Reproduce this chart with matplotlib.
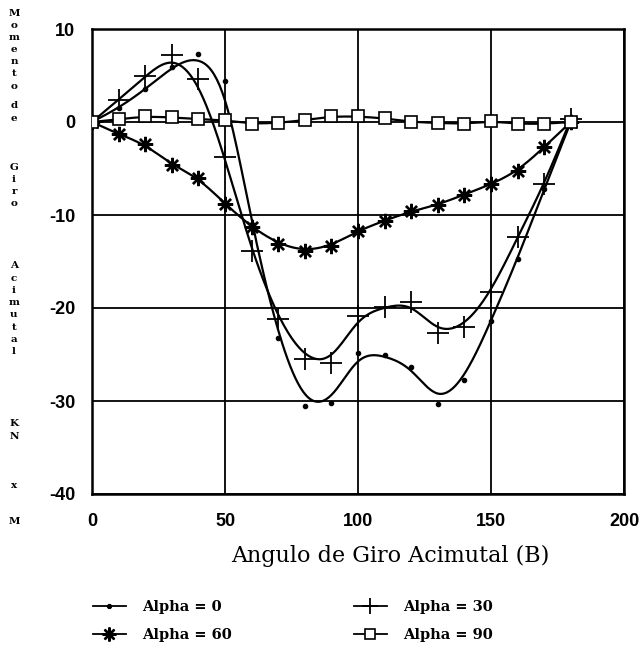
import numpy as np
import matplotlib
matplotlib.use("Agg")
import matplotlib.pyplot as plt
from matplotlib.lines import Line2D

plt.rcParams["axes.unicode_minus"] = False

# ---- data ----
angle = [0, 10, 20, 30, 40, 50, 60, 70, 80, 90, 100, 110, 120, 130, 140, 150, 160, 170, 180]
alpha0 = [0, 1.5, 3.5, 5.9, 7.3, 4.4, -11.0, -23.2, -30.5, -30.2, -24.8, -25.1, -26.3, -30.3, -27.7, -21.4, -14.7, -7.2, 0]
alpha30 = [0, 2.4, 4.9, 7.2, 4.6, -3.8, -13.9, -21.2, -25.5, -25.9, -20.9, -19.9, -19.4, -22.7, -22.0, -18.3, -12.4, -6.7, 0.3]
alpha60 = [0, -1.3, -2.4, -4.6, -6.0, -8.8, -11.3, -13.1, -13.9, -13.3, -11.7, -10.6, -9.6, -8.9, -7.8, -6.7, -5.3, -2.7, 0]
alpha90 = [0, 0.3, 0.6, 0.5, 0.3, 0.2, -0.2, -0.1, 0.2, 0.6, 0.6, 0.4, 0.0, -0.1, -0.2, 0.1, -0.2, -0.2, 0]
series_labels = ["Alpha = 0", "Alpha = 30", "Alpha = 60", "Alpha = 90"]
xlabel = "Angulo de Giro Acimutal (B)"
ylabel_words = ["Momento", "de", "Giro", "Acimutal", "KN", "x", "M"]
xticks = [0, 50, 100, 150, 200]
yticks = [10, 0, -10, -20, -30, -40]


def bspline(xs, ys, n=20):
    """Uniform cubic B-spline using the points as control points (clamped ends)."""
    px = np.concatenate([[xs[0]] * 2, xs, [xs[-1]] * 2]).astype(float)
    py = np.concatenate([[ys[0]] * 2, ys, [ys[-1]] * 2]).astype(float)
    t = np.linspace(0, 1, n, endpoint=False)
    b0 = (1 - t) ** 3 / 6
    b1 = (3 * t ** 3 - 6 * t ** 2 + 4) / 6
    b2 = (-3 * t ** 3 + 3 * t ** 2 + 3 * t + 1) / 6
    b3 = t ** 3 / 6
    ox, oy = [], []
    for i in range(len(px) - 3):
        ox.append(b0 * px[i] + b1 * px[i + 1] + b2 * px[i + 2] + b3 * px[i + 3])
        oy.append(b0 * py[i] + b1 * py[i + 1] + b2 * py[i + 2] + b3 * py[i + 3])
    ox.append([px[-1]])
    oy.append([py[-1]])
    return np.concatenate(ox), np.concatenate(oy)


fig = plt.figure(figsize=(6.44, 6.49), dpi=100)
ax = fig.add_axes([92 / 644, 1 - 494 / 649, (624 - 92) / 644, (494 - 29) / 649])

styles = [
    dict(marker="o", markersize=3.2, markerfacecolor="black", markeredgewidth=0.8),
    dict(marker="+", markersize=16, markeredgewidth=1.3),
    dict(marker=(8, 2, 0), markersize=11, markeredgewidth=1.7),
    dict(marker="s", markersize=8, markerfacecolor="white", markeredgewidth=1.2),
]
legend_sizes = [3.0, 11, 10, 7.5]
all_series = [alpha0, alpha30, alpha60, alpha90]
handles = []
for ys, st, lab, ls in zip(all_series, styles, series_labels, legend_sizes):
    cx, cy = bspline(angle, ys)
    ax.plot(cx, cy, color="black", lw=1.6, zorder=3)
    ax.plot(angle, ys, linestyle="none", color="black", zorder=4, **st)
    hst = dict(st)
    hst["markersize"] = ls
    handles.append(Line2D([0], [0], color="black", lw=1.3, **hst))

ax.set_xlim(0, 200)
ax.set_ylim(-40, 10)
ax.set_xticks(xticks)
ax.set_yticks(yticks)
ax.grid(True, color="black", lw=1.3)
ax.set_axisbelow(True)
for s in ax.spines.values():
    s.set_linewidth(1.8)
ax.tick_params(length=0, labelsize=13)
for lab in ax.get_xticklabels() + ax.get_yticklabels():
    lab.set_family("Liberation Sans")
    lab.set_fontweight("bold")
ax.tick_params(axis="x", pad=14)
ax.tick_params(axis="y", pad=12)

fig.text(390 / 644, 1 - 556 / 649, xlabel, family="DejaVu Serif", fontsize=16,
         ha="center", va="center")

# vertical stacked y label, one text per letter
starts = [13, 106, 167, 266, 424, 486, 521]
pitch = 12.2
for word, y0 in zip(ylabel_words, starts):
    for k, ch in enumerate(word):
        fig.text(14 / 644, 1 - (y0 + k * pitch) / 649, ch, family="DejaVu Serif",
                 fontweight="bold", fontsize=7.5, ha="center", va="center")

# legend: two columns placed separately
legprops = dict(family="DejaVu Serif", weight="bold", size=10.5)
for cols, x0 in (([0, 2], 93), ([1, 3], 354)):
    lg = fig.legend([handles[i] for i in cols], [series_labels[i] for i in cols],
                    frameon=False, loc="center left", bbox_to_anchor=(x0 / 644, 1 - 621 / 649),
                    prop=legprops, handlelength=2.25, handletextpad=1.1,
                    labelspacing=1.0, borderpad=0, borderaxespad=0)

fig.savefig("out.png", dpi=100)
